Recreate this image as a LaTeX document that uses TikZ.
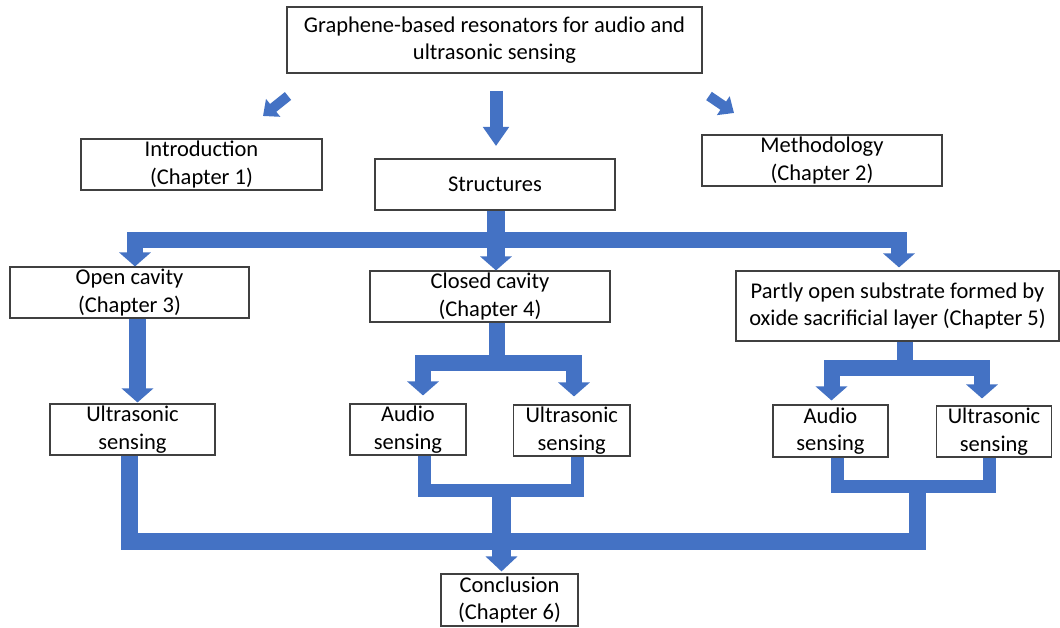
\documentclass[tikz,border=0pt]{standalone}
\usepackage{fontspec}
\setmainfont{Carlito}
\usetikzlibrary{arrows.meta}
\definecolor{flow}{HTML}{4472C4}
\definecolor{edgegray}{HTML}{404040}
\begin{document}
\begin{tikzpicture}[x=1pt,y=-1pt,
  box/.style={draw=edgegray, line width=1.1pt, fill=white, inner sep=0pt, align=center,
    font=\fontsize{22.5}{27.5}\selectfont},
  conn/.style={draw=flow, line width=16pt, line join=miter, line cap=butt},
  uconn/.style={conn, line width=13pt},
  headed/.style={-{Triangle[width=31pt,length=14pt]}},
  smallarrow/.style={draw=flow, line width=10pt, line cap=butt, -{Triangle[width=22pt,length=13pt]}}]
\useasboundingbox (0,0) rectangle (1060,628);
\fill[white] (0,0) rectangle (1060,628);

% nodes
\node[box, minimum width=415pt, minimum height=66pt] (title) at (494.5,40) {Graphene-based resonators for audio and\\ultrasonic sensing};
\node[box, minimum width=241pt, minimum height=51pt] (intro) at (201.5,164.5) {Introduction\\(Chapter 1)};
\node[box, minimum width=240pt, minimum height=51pt] (struct) at (495,184.5) {Structures};
\node[box, minimum width=240pt, minimum height=51pt] (method) at (822,160.5) {Methodology\\(Chapter 2)};
\node[box, minimum width=239pt, minimum height=51pt] (open) at (129.5,292.5) {Open cavity\\(Chapter 3)};
\node[box, minimum width=240pt, minimum height=51pt] (closed) at (490,296.5) {Closed cavity\\(Chapter 4)};
\node[box, minimum width=323pt, minimum height=70pt] (partly) at (897.5,306) {Partly open substrate formed by\\oxide sacrificial layer (Chapter 5)};
\node[box, minimum width=165pt, minimum height=51pt] (us1) at (132.5,429.5) {Ultrasonic\\sensing};
\node[box, minimum width=116pt, minimum height=51pt] (au2) at (408,429.5) {Audio\\sensing};
\node[box, minimum width=116.5pt, minimum height=51pt] (us2) at (571.75,430.5) {Ultrasonic\\sensing};
\node[box, minimum width=115pt, minimum height=52pt] (au3) at (830.5,431) {Audio\\sensing};
\node[box, minimum width=115.5pt, minimum height=51pt] (us3) at (994,431.5) {Ultrasonic\\sensing};
\node[box, minimum width=137pt, minimum height=52pt] (concl) at (509.5,600) {Conclusion\\(Chapter 6)};

% small arrows under the title
\coordinate (la) at (288,96);  \coordinate (lb) at (263,116);
\coordinate (ma) at (496,91);  \coordinate (mb) at (496,146);
\coordinate (ra) at (709,96);  \coordinate (rb) at (734,113);
\draw[smallarrow] (la) -- (lb);
\draw[smallarrow] (ra) -- (rb);
\draw[draw=flow, line width=13pt, line cap=butt, -{Triangle[width=25pt,length=19pt]}] (ma) -- (mb);

% structures bus
\coordinate (busc) at (496,240);
\draw[conn, line width=18pt, headed] ([xshift=1pt]struct.south) -- ([xshift=1pt]struct.south |- closed.north);
\draw[conn, headed] (busc) -| ([xshift=5.5pt]open.north);
\draw[conn, headed] (busc) -| ([xshift=1.5pt,yshift=3pt]partly.north);

% open cavity -> ultrasonic
\draw[conn, line width=17pt, headed] ([xshift=8pt]open.south) -- ([xshift=8pt,yshift=1pt]open.south |- us1.north);

% closed cavity branch
\coordinate (cb) at (496.5,363);
\draw[conn] ([xshift=6.5pt]closed.south) -- (cb);
\draw[conn, headed] (cb) -| ([xshift=15pt,yshift=8pt]au2.north);
\draw[conn, headed] (cb) -| ([xshift=2.25pt,yshift=8pt]us2.north);

% partly open branch
\coordinate (pb) at (905,368);
\draw[conn] ([xshift=7.5pt]partly.south) -- (pb);
\draw[conn, headed] (pb) -| ([xshift=1pt,yshift=4pt]au3.north);
\draw[conn, headed] (pb) -| ([xshift=-12pt,yshift=7pt]us3.north);

% merging to conclusion
\coordinate (m2) at (501.5,490);
\coordinate (m3) at (917,486);
\coordinate (bj) at (501.5,541.5);
\draw[uconn] ([xshift=16pt]au2.south) |- (m2) -| ([xshift=5.25pt]us2.south);
\draw[uconn] ([xshift=7pt]au3.south) |- (m3) -| ([xshift=-5pt]us3.south);
\draw[conn, line width=17pt] ([xshift=-3pt]us1.south) |- (bj) -| (m3);
\draw[conn, line width=19pt, -{Triangle[width=31pt,length=15pt]}] (m2) -- ([xshift=-8pt,yshift=2pt]concl.north);
\end{tikzpicture}
\end{document}
